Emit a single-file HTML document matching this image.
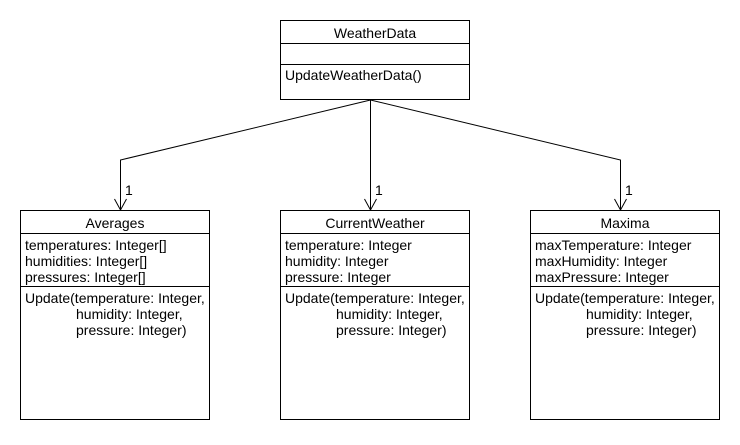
<!DOCTYPE html>
<html><head><style>
body{margin:0;background:#fff;}
svg text{font-family:"Liberation Sans",sans-serif;font-size:14px;fill:#000;}
</style></head><body>
<svg width="740" height="440" xmlns="http://www.w3.org/2000/svg">
<rect width="740" height="440" fill="#fff"/>
<g fill="none" stroke="#000" stroke-width="1">
<rect x="280.5" y="20.5" width="189" height="79"/>
<line x1="280" y1="43.5" x2="470" y2="43.5"/>
<line x1="280" y1="64.5" x2="470" y2="64.5"/>
<rect x="20.5" y="210.5" width="189" height="209"/>
<line x1="20" y1="233.5" x2="210" y2="233.5"/>
<line x1="20" y1="286.5" x2="210" y2="286.5"/>
<rect x="280.5" y="210.5" width="189" height="209"/>
<line x1="280" y1="233.5" x2="470" y2="233.5"/>
<line x1="280" y1="286.5" x2="470" y2="286.5"/>
<rect x="530.5" y="210.5" width="189" height="209"/>
<line x1="530" y1="233.5" x2="720" y2="233.5"/>
<line x1="530" y1="286.5" x2="720" y2="286.5"/>
<polyline points="370.5,100 120.5,160 120.5,210"/>
<polyline points="370.5,100 370.5,210"/>
<polyline points="370.5,100 620.5,160 620.5,210"/>
<polyline points="114.5,199 120.5,210 126.5,199"/>
<polyline points="364.5,199 370.5,210 376.5,199"/>
<polyline points="614.5,199 620.5,210 626.5,199"/>
</g>
<text x="375" y="38" text-anchor="middle">WeatherData</text>
<text x="285" y="80">UpdateWeatherData()</text>
<text x="125" y="195">1</text><text x="375" y="195">1</text><text x="625" y="195">1</text>
<text x="115" y="228" text-anchor="middle">Averages</text>
<text x="25" y="250">temperatures: Integer[]</text>
<text x="25" y="266">humidities: Integer[]</text>
<text x="25" y="282">pressures: Integer[]</text>
<text x="25" y="303">Update(temperature: Integer,</text>
<text x="76" y="319">humidity: Integer,</text>
<text x="76" y="335">pressure: Integer)</text>
<text x="375" y="228" text-anchor="middle">CurrentWeather</text>
<text x="285" y="250">temperature: Integer</text>
<text x="285" y="266">humidity: Integer</text>
<text x="285" y="282">pressure: Integer</text>
<text x="285" y="303">Update(temperature: Integer,</text>
<text x="336" y="319">humidity: Integer,</text>
<text x="336" y="335">pressure: Integer)</text>
<text x="625" y="228" text-anchor="middle">Maxima</text>
<text x="535" y="250">maxTemperature: Integer</text>
<text x="535" y="266">maxHumidity: Integer</text>
<text x="535" y="282">maxPressure: Integer</text>
<text x="535" y="303">Update(temperature: Integer,</text>
<text x="586" y="319">humidity: Integer,</text>
<text x="586" y="335">pressure: Integer)</text>
</svg>
</body></html>
